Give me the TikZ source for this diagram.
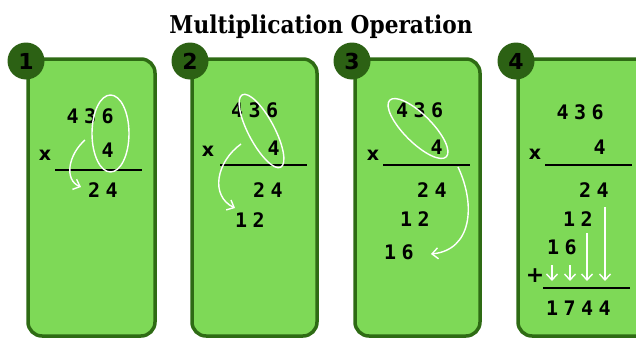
\documentclass[tikz,border=0pt]{standalone}
\usepackage{fontspec}
\usepackage{graphicx}
\setmainfont{DejaVu Sans}
\newfontfamily\titlefont{DejaVu Serif}
\newfontfamily\digitfont{DejaVu Sans Mono}
\usetikzlibrary{arrows.meta,shapes.geometric}

\definecolor{panelfill}{HTML}{7ED957}
\definecolor{paneledge}{HTML}{2E6B14}
\definecolor{badgefill}{HTML}{2C6114}

% one column of the written sum
\newcommand\dg[1]{\makebox[17.5pt]{#1}}

\tikzset{
  panel/.style={draw=paneledge, line width=3.5pt, fill=panelfill, rounded corners=14pt},
  badge/.style={circle, fill=badgefill, minimum size=37pt, inner sep=0pt,
    font=\fontsize{22}{22}\selectfont\bfseries, text=black},
  num/.style={anchor=east, inner sep=0pt,
    font=\digitfont\bfseries\fontsize{20}{20}\selectfont},
  sign/.style={inner sep=0pt, font=\bfseries\fontsize{19}{19}\selectfont},
  rule/.style={line width=2.6pt, black},
  loop/.style={ellipse, draw=white, line width=1.4pt, inner sep=0pt},
  hint/.style={draw=white, line width=1.4pt, -{Straight Barb[length=6pt,width=11pt]}},
}

\begin{document}
\begin{tikzpicture}[x=1pt,y=-1pt]
\useasboundingbox (0,0) rectangle (636,340);
\clip (0,0) rectangle (636,340);

% title
\node[anchor=base, inner sep=0pt] (title) at (321,33)
  {\resizebox{303pt}{\height}{\titlefont\bfseries\fontsize{24.5}{24.5}\selectfont Multiplication Operation}};

% the four cards
\draw[panel] (28,59) rectangle (155,336);
\draw[panel] (192,59) rectangle (317,336);
\draw[panel] (355,59) rectangle (480,336);
\draw[panel] (518,59) rectangle (660,336);

\node[badge] (b1) at (26,61) {1};
\node[badge] (b2) at (190,61) {2};
\node[badge] (b3) at (352,61) {3};
\node[badge] (b4) at (516,61) {4};

% ---- step 1: 6 x 4
\node[num] (p1top) at (116.5,116) {\dg4\dg3\dg6};
\node[num] (p1mul) at (116.5,150) {\dg4};
\node[sign] (p1x) at (45,155) {x};
\coordinate (p1ra) at (55,170);
\coordinate (p1rb) at (142,170);
\draw[rule] (p1ra) -- (p1rb);
\node[num] (p1r1) at (120.5,190) {\dg2\dg4};
\node[loop, minimum width=37pt, minimum height=77pt] (p1loop) at (110.5,133.5) {};
\coordinate (p1s) at (85,140);
\coordinate (p1e) at (81,187);
\draw[hint] (p1s) .. controls (68,155) and (64,180) .. (p1e);

% ---- step 2: 3 x 4
\node[num] (p2top) at (281,110) {\dg4\dg3\dg6};
\node[num] (p2mul) at (282.5,148) {\dg4};
\node[sign] (p2x) at (208,151) {x};
\coordinate (p2ra) at (220,165);
\coordinate (p2rb) at (307,165);
\draw[rule] (p2ra) -- (p2rb);
\node[num] (p2r1) at (285.5,190) {\dg2\dg4};
\node[num] (p2r2) at (267.5,220) {\dg1\dg2};
\node[loop, minimum width=26pt, minimum height=82pt, rotate=28] (p2loop) at (261.5,131) {};
\coordinate (p2s) at (241,144);
\coordinate (p2e) at (235,208);
\draw[hint] (p2s) .. controls (216,162) and (210,196) .. (p2e);

% ---- step 3: 4 x 4
\node[num] (p3top) at (446,110) {\dg4\dg3\dg6};
\node[num] (p3mul) at (445.5,147) {\dg4};
\node[sign] (p3x) at (373,155) {x};
\coordinate (p3ra) at (383,165);
\coordinate (p3rb) at (470,165);
\draw[rule] (p3ra) -- (p3rb);
\node[num] (p3r1) at (449.5,190) {\dg2\dg4};
\node[num] (p3r2) at (432.5,219) {\dg1\dg2};
\node[num] (p3r3) at (416.5,252) {\dg1\dg6};
\node[loop, minimum width=28pt, minimum height=80pt, rotate=45] (p3loop) at (418,128.5) {};
\coordinate (p3s) at (458,167);
\coordinate (p3e) at (431,254);
\draw[hint] (p3s) .. controls (476,205) and (472,250) .. (p3e);

% ---- step 4: add the partial products
\node[num] (p4top) at (606.5,112) {\dg4\dg3\dg6};
\node[num] (p4mul) at (608.5,147) {\dg4};
\node[sign] (p4x) at (535,154) {x};
\coordinate (p4ra) at (545,165);
\coordinate (p4rb) at (632,165);
\draw[rule] (p4ra) -- (p4rb);
\node[num] (p4r1) at (611.5,190) {\dg2\dg4};
\node[num] (p4r2) at (595.5,219) {\dg1\dg2};
\node[num] (p4r3) at (579.5,247) {\dg1\dg6};
\node[sign, font=\bfseries\fontsize{22}{22}\selectfont] (p4plus) at (535,276) {+};
\coordinate (p4sa) at (543,288);
\coordinate (p4sb) at (630,288);
\draw[rule] (p4sa) -- (p4sb);
\node[num] (p4sum) at (613.5,308) {\dg1\dg7\dg4\dg4};
\coordinate (d1s) at (552,265);
\coordinate (d1e) at (552,281);
\coordinate (d2s) at (570,265);
\coordinate (d2e) at (570,281);
\coordinate (d3s) at (587,233);
\coordinate (d3e) at (587,281);
\coordinate (d4s) at (605,207);
\coordinate (d4e) at (605,281);
\draw[hint] (d1s) -- (d1e);
\draw[hint] (d2s) -- (d2e);
\draw[hint] (d3s) -- (d3e);
\draw[hint] (d4s) -- (d4e);
\end{tikzpicture}
\end{document}
